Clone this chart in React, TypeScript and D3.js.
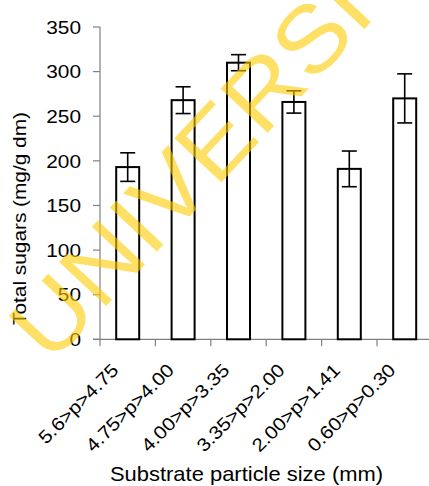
import React from "react";
import * as d3 from "d3";

const categories = ["5.6>p>4.75", "4.75>p>4.00", "4.00>p>3.35", "3.35>p>2.00", "2.00>p>1.41", "0.60>p>0.30"];
const means = [193, 268, 310, 266, 191, 270];
const errors = [16, 15, 9, 12.5, 20, 27.5];
const yTicks = [0, 50, 100, 150, 200, 250, 300, 350];

const W = 429;
const H = 486;
const FONT = "'Liberation Sans', Arial, sans-serif";
const SX = 1.12;

export default function App() {
  const y = d3.scaleLinear().domain([0, 350]).range([339.3, 27]);
  const x = d3.scaleBand<string>().domain(categories).range([100, 432.4]).padding(0);
  const barW = 23;
  const capW = 15;
  const axisColor = "#808080";
  const y0 = y(0);

  return (
    <svg width={W} height={H} style={{ position: "absolute", left: 0, top: 0, background: "#fff" }} fontFamily={FONT}>
      <line x1={100} x2={100} y1={y(350)} y2={y0} stroke={axisColor} strokeWidth={1.2} />
      {yTicks.map((t) => (
        <g key={t}>
          <line x1={93} x2={100} y1={y(t)} y2={y(t)} stroke={axisColor} strokeWidth={1.2} />
          <text transform={`translate(81,${y(t) + 6.7}) scale(${SX},1)`} textAnchor="end" fontSize={18.6} fill="#000">
            {t}
          </text>
        </g>
      ))}
      <line x1={93} x2={W} y1={y0} y2={y0} stroke={axisColor} strokeWidth={1.2} />
      {categories.map((c, i) => (
        <line key={"t" + i} x1={x(c)!} x2={x(c)!} y1={y0} y2={y0 + 7} stroke={axisColor} strokeWidth={1.2} />
      ))}
      {categories.map((c, i) => {
        const cx = x(c)! + x.bandwidth() / 2;
        return (
          <g key={"b" + i}>
            <rect x={cx - barW / 2} y={y(means[i])} width={barW} height={y0 - y(means[i])} fill="#fff" stroke="#000" strokeWidth={2} />
            <line x1={cx} x2={cx} y1={y(means[i] + errors[i])} y2={y(means[i] - errors[i])} stroke="#000" strokeWidth={1.6} />
            <line x1={cx - capW / 2} x2={cx + capW / 2} y1={y(means[i] + errors[i])} y2={y(means[i] + errors[i])} stroke="#000" strokeWidth={1.6} />
            <line x1={cx - capW / 2} x2={cx + capW / 2} y1={y(means[i] - errors[i])} y2={y(means[i] - errors[i])} stroke="#000" strokeWidth={1.6} />
          </g>
        );
      })}
      {categories.map((c, i) => {
        const cx = x(c)! + x.bandwidth() / 2;
        return (
          <text key={"l" + i} transform={`translate(${cx - 8},${y0 + 32}) rotate(-45) scale(${SX},1)`} textAnchor="end" fontSize={18.4} fill="#000">
            {c}
          </text>
        );
      })}
      <text transform={`translate(246.5,481) scale(${SX},1)`} textAnchor="middle" fontSize={19.6} fill="#000">
        Substrate particle size (mm)
      </text>
      <text transform={`translate(26,218.5) rotate(-90) scale(${SX},1)`} textAnchor="middle" fontSize={18.6} fill="#000">
        Total sugars (mg/g dm)
      </text>
      <text transform={`translate(50.5,365.5) rotate(-47) scale(1.085,1)`} fontSize={93.5} fill="rgb(255,204,0)" fillOpacity={0.6}>
        UNIVERSITY
      </text>
    </svg>
  );
}
